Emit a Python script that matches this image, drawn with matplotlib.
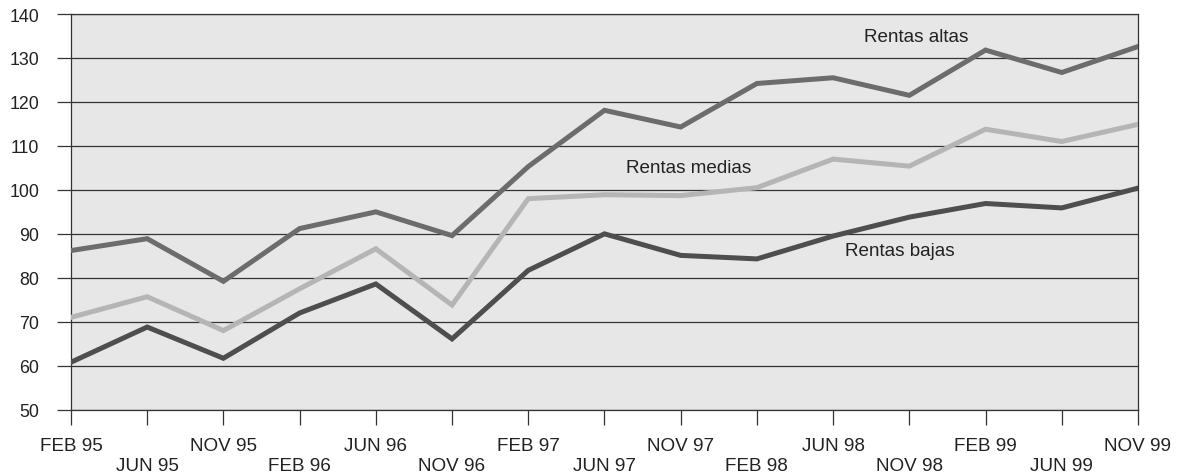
import matplotlib
matplotlib.use("Agg")
import matplotlib.pyplot as plt

plt.rcParams['font.family'] = ['Liberation Sans', 'DejaVu Sans']

categories = ["FEB 95", "JUN 95", "NOV 95", "FEB 96", "JUN 96", "NOV 96", "FEB 97", "JUN 97",
              "NOV 97", "FEB 98", "JUN 98", "NOV 98", "FEB 99", "JUN 99", "NOV 99"]
rentas_altas = [86.2, 88.9, 79.2, 91.2, 95.0, 89.6, 105.3, 118.1, 114.3, 124.2, 125.5, 121.5, 131.8, 126.7, 132.6]
rentas_medias = [71.0, 75.7, 68.0, 77.5, 86.6, 73.8, 98.0, 98.9, 98.7, 100.5, 107.0, 105.4, 113.8, 111.0, 114.9]
rentas_bajas = [60.8, 68.8, 61.7, 72.0, 78.6, 66.1, 81.7, 90.0, 85.1, 84.3, 89.5, 93.8, 96.9, 95.9, 100.4]
y_ticks = [50, 60, 70, 80, 90, 100, 110, 120, 130, 140]

fig = plt.figure(figsize=(11.79, 4.77), dpi=100)
ax = fig.add_axes([0.0602, 0.139, 0.905, 0.8295])
ax.set_facecolor('#e7e7e7')

x = list(range(len(categories)))
ax.plot(x, rentas_altas, color='#6c6c6c', lw=3.6, solid_joinstyle='miter', zorder=3)
ax.plot(x, rentas_medias, color='#b5b5b5', lw=3.6, solid_joinstyle='miter', zorder=3)
ax.plot(x, rentas_bajas, color='#4e4e4e', lw=3.6, solid_joinstyle='miter', zorder=3)

ax.set_xlim(0, len(categories) - 1)
ax.set_ylim(50, 140)
ax.set_yticks(y_ticks)
ax.set_yticklabels([str(v) for v in y_ticks], fontsize=12.8, color='#222222')
ax.set_xticks(x)
ax.set_xticklabels([c if i % 2 == 0 else "\n" + c for i, c in enumerate(categories)],
                   fontsize=13.6, color='#222222', linespacing=1.2)

ax.yaxis.grid(True, color='#333333', lw=0.9)
ax.set_axisbelow(True)
ax.tick_params(axis='y', length=10, width=0.9, pad=13, color='#333333')
ax.tick_params(axis='x', length=11, width=0.9, pad=9, color='#333333')
for s in ax.spines.values():
    s.set_color('#333333')
    s.set_linewidth(0.9)

ax.text(11.09, 135.0, "Rentas altas", fontsize=13.6, ha='center', va='center', color='#222222')
ax.text(8.11, 105.2, "Rentas medias", fontsize=13.6, ha='center', va='center', color='#222222')
ax.text(10.88, 86.2, "Rentas bajas", fontsize=13.6, ha='center', va='center', color='#222222')

fig.savefig("out.png", dpi=100, facecolor='white')
